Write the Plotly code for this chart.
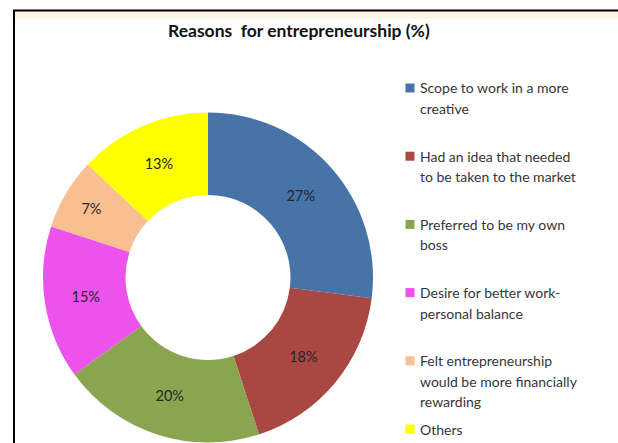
import plotly.graph_objects as go

# Survey results: reasons for starting a business (%)
categories = [
    "Scope to work in a more creative",
    "Had an idea that needed to be taken to the market",
    "Preferred to be my own boss",
    "Desire for better work-personal balance",
    "Felt entrepreneurship would be more financially rewarding",
    "Others",
]
legend_lines = [
    ["Scope to work in a more", "creative"],
    ["Had an idea that needed", "to be taken to the market"],
    ["Preferred to be my own", "boss"],
    ["Desire for better work-", "personal balance"],
    ["Felt entrepreneurship", "would be more financially", "rewarding"],
    ["Others"],
]
shares = [27, 18, 20, 15, 7, 13]
colors = ["#4673A8", "#A94743", "#8AA54F", "#EC52EC", "#F9BF90", "#FFFF00"]

W, H = 618, 443

fig = go.Figure()
fig.add_trace(go.Pie(
    labels=categories,
    values=shares,
    sort=False,
    direction="clockwise",
    rotation=0,
    hole=0.5,
    marker=dict(colors=colors, line=dict(width=0)),
    texttemplate="%{value}%",
    textposition="inside",
    insidetextorientation="horizontal",
    textfont=dict(family="Lato", size=14.5, color="#262626"),
    showlegend=False,
    domain=dict(x=[43 / W, 373 / W], y=[0, 1 - 112 / H]),
))

shapes = [
    # frame: top rule with a pale band under it, and left rule
    dict(type="rect", xref="paper", yref="paper", x0=14 / W, x1=1,
         y0=1 - 19 / H, y1=1 - 11 / H, fillcolor="#FDF4E6", line=dict(width=0)),
    dict(type="line", xref="paper", yref="paper", x0=13 / W, x1=1,
         y0=1 - 10.5 / H, y1=1 - 10.5 / H, line=dict(color="#000000", width=2)),
    dict(type="line", xref="paper", yref="paper", x0=14 / W, x1=14 / W,
         y0=0, y1=1 - 10 / H, line=dict(color="#000000", width=2)),
]

annotations = [
    dict(text="<b>Reasons  for entrepreneurship (%)</b>", xref="paper", yref="paper",
         x=299 / W, y=1 - 31 / H, xanchor="center", yanchor="middle", showarrow=False,
         font=dict(family="Lato", size=17.5, color="#111111")),
]

# legend: square swatch plus wrapped label lines
item_pitch = 68.2
line_pitch = 20.4
for i, (lines, col) in enumerate(zip(legend_lines, colors)):
    yc = 88 + item_pitch * i
    shapes.append(dict(type="rect", xref="paper", yref="paper",
                       x0=405.5 / W, x1=414.5 / W,
                       y0=1 - (yc + 4.5) / H, y1=1 - (yc - 4.5) / H,
                       fillcolor=col, line=dict(width=0)))
    for j, ln in enumerate(lines):
        annotations.append(dict(text=ln, xref="paper", yref="paper",
                                x=418 / W, y=1 - (yc + line_pitch * j) / H,
                                xanchor="left", yanchor="middle", showarrow=False,
                                font=dict(family="Lato", size=14, color="#363636")))

fig.update_layout(
    width=W, height=H,
    margin=dict(l=0, r=0, t=0, b=0),
    paper_bgcolor="#FFFFFF",
    plot_bgcolor="#FFFFFF",
    shapes=shapes,
    annotations=annotations,
)

fig.write_html("out.html")
